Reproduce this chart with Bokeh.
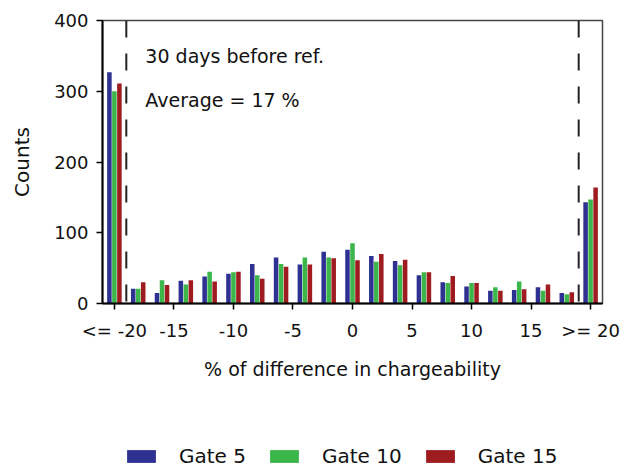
from bokeh.plotting import figure
from bokeh.layouts import column
from bokeh.models import (Range1d, FixedTicker, Span, Label, Legend, LegendItem,
                          ColumnDataSource)
from bokeh.transform import dodge
from bokeh.embed import file_html
from bokeh.resources import INLINE

# ---- data ----
bins = [-20, -18, -16, -14, -12, -10, -8, -6, -4, -2, 0, 2, 4, 6, 8, 10, 12, 14, 16, 18, 20]
gate5 = [327, 21, 15, 32, 38, 42, 56, 65, 55, 73, 76, 67, 60, 40, 30, 24, 18, 19, 23, 15, 143]
gate10 = [300, 21, 33, 27, 45, 44, 40, 56, 65, 65, 85, 59, 54, 44, 29, 29, 23, 31, 18, 13, 147]
gate15 = [311, 30, 26, 33, 31, 45, 35, 52, 55, 64, 61, 70, 62, 44, 39, 29, 18, 20, 27, 16, 164]
series_names = ["Gate 5", "Gate 10", "Gate 15"]
x_tick_values = [-20, -15, -10, -5, 0, 5, 10, 15, 20]
x_tick_labels = ["<= -20", "-15", "-10", "-5", "0", "5", "10", "15", ">= 20"]
y_tick_values = [0, 100, 200, 300, 400]
cutoffs = [-19, 19]
notes = ["30 days before ref.", "Average = 17 %"]

colors = ["#2e3192", "#3cb54a", "#9e1b20"]
FONT = "DejaVu Sans"

src = ColumnDataSource(dict(x=bins, g5=gate5, g10=gate10, g15=gate15))

p = figure(width=630, height=398, output_backend="svg", toolbar_location=None,
           x_range=Range1d(-21, 21), y_range=Range1d(0, 400),
           min_border_left=102, min_border_right=28, min_border_top=20,
           min_border_bottom=95)
p.grid.visible = False
p.outline_line_color = "#444444"
p.outline_line_width = 1.5

w = 0.38
r1 = p.vbar(x=dodge("x", -0.42, range=p.x_range), top="g5", width=w, source=src,
            fill_color=colors[0], line_color=None)
r2 = p.vbar(x=dodge("x", 0.0, range=p.x_range), top="g10", width=w, source=src,
            fill_color=colors[1], line_color=None)
r3 = p.vbar(x=dodge("x", 0.42, range=p.x_range), top="g15", width=w, source=src,
            fill_color=colors[2], line_color=None)

for c in cutoffs:
    p.add_layout(Span(location=c, dimension="height", line_color="#222222",
                      line_width=2, line_dash="17 16"))

p.add_layout(Label(x=-17.4, y=349.5, text=notes[0], text_font=FONT,
                   text_font_size="19px", text_color="#111111",
                   text_baseline="alphabetic"))
p.add_layout(Label(x=-17.4, y=288, text=notes[1], text_font=FONT,
                   text_font_size="19px", text_color="#111111",
                   text_baseline="alphabetic"))

# axes
p.xaxis.ticker = FixedTicker(ticks=x_tick_values)
p.xaxis.major_label_overrides = {v: l for v, l in zip(x_tick_values, x_tick_labels)}
p.yaxis.ticker = FixedTicker(ticks=y_tick_values)
for ax in (p.xaxis, p.yaxis):
    ax.axis_line_color = "black"
    ax.axis_line_width = 2
    ax.major_tick_line_color = "black"
    ax.major_tick_line_width = 1.5
    ax.major_tick_out = 6
    ax.major_tick_in = 0
    ax.minor_tick_line_color = None
    ax.major_label_text_font = FONT
    ax.major_label_text_font_size = "18px"
    ax.major_label_text_color = "#111111"
    ax.axis_label_text_font = FONT
    ax.axis_label_text_font_style = "normal"
    ax.axis_label_text_color = "#111111"
p.yaxis.axis_label = "Counts"
p.yaxis.axis_label_text_font_size = "20px"
p.yaxis.major_label_standoff = 8
p.yaxis.axis_label_standoff = 17
p.xaxis.axis_label = "% of difference in chargeability"
p.xaxis.axis_label_text_font_size = "19px"
p.xaxis.major_label_standoff = 10
p.xaxis.axis_label_standoff = 14

# ---- legend strip (separate figure below the chart) ----
lg = figure(width=630, height=70, output_backend="svg", toolbar_location=None,
            x_range=Range1d(0, 1), y_range=Range1d(0, 1),
            min_border_left=0, min_border_right=0, min_border_top=0,
            min_border_bottom=0)
lg.axis.visible = False
lg.grid.visible = False
lg.outline_line_color = None
# swatch renderers: one bar each, placed far outside the strip's visible range
hidden = ColumnDataSource(dict(x=[-50.0], top=[-40.0]))
swatches = [lg.vbar(x="x", top="top", bottom=-50.0, width=0.1, source=hidden,
                    fill_color=c, line_color=None) for c in colors]
legend = Legend(items=[LegendItem(label=n, renderers=[r])
                       for n, r in zip(series_names, swatches)],
                orientation="horizontal", location=(21, 0),
                glyph_width=36, glyph_height=16, label_standoff=20, spacing=20,
                label_text_font=FONT, label_text_font_size="20px",
                label_text_color="#111111",
                border_line_color=None, background_fill_alpha=0,
                padding=0, margin=0)
lg.add_layout(legend, "center")

layout = column(p, lg, spacing=0)
open("out.html", "w").write(file_html(layout, INLINE))
